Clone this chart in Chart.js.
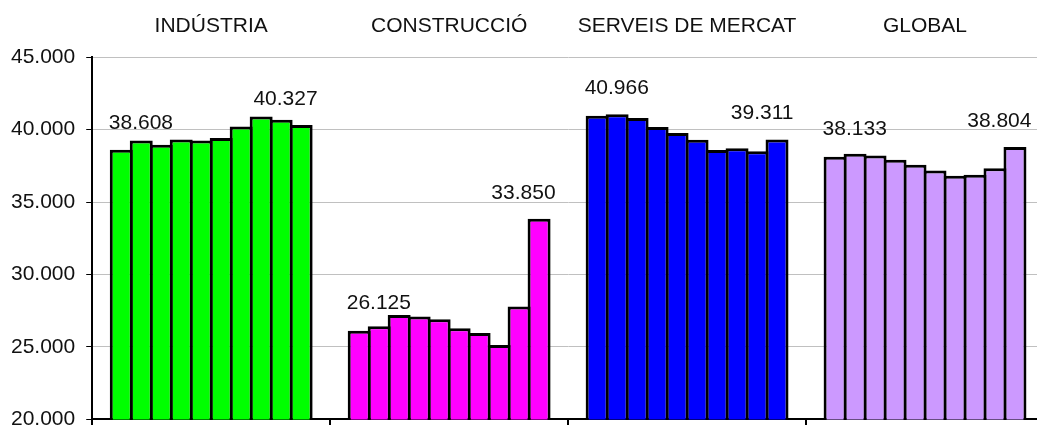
<!DOCTYPE html>
<html lang="ca">
<head>
    <meta charset="UTF-8">
    <title>Gràfic</title>
    <script src="https://cdn.jsdelivr.net/npm/chart.js"></script>
    <style>
        html, body { margin:0; padding:0; background:#fff; overflow:hidden; }
    </style>
</head>
<body>
    <div style="width:1052px; height:443px;">
        <canvas id="grafic"></canvas>
    </div>

    <script>
        const categories = ["INDÚSTRIA", "CONSTRUCCIÓ", "SERVEIS DE MERCAT", "GLOBAL"]
        const industria   = [38608, 39250, 38950, 39320, 39250, 39430, 40220, 40900, 40680, 40327]
        const construccio = [26125, 26430, 27210, 27100, 26910, 26290, 25970, 25140, 27790, 33850]
        const serveis     = [40966, 41060, 40810, 40190, 39770, 39310, 38600, 38720, 38510, 39311]
        const global      = [38133, 38330, 38210, 37930, 37570, 37180, 36810, 36880, 37340, 38804]
        const colors = ["#00ff00", "#ff00ff", "#0000ff", "#cc99ff"]
        const yTicks = [20000, 25000, 30000, 35000, 40000, 45000]

        const fmt = v => String(v).replace(/\B(?=(\d{3})+(?!\d))/g, ".")
        const font = { family: "'Liberation Sans', Arial, sans-serif", size: 21 }

        // one dataset per bar position inside each group
        const datasets = []
        for (let j = 0; j < industria.length; j++) {
          datasets.push({
            data: [industria[j], construccio[j], serveis[j], global[j]],
            backgroundColor: colors,
            borderColor: "#000",
            borderWidth: 3,
            categoryPercentage: 0.84,
            barPercentage: 1.15
          })
        }

        // first and last value of every group
        const endLabels = {
          id: "endLabels",
          afterDatasetsDraw(chart) {
            const c = chart.ctx
            const last = chart.data.datasets.length - 1
            c.save()
            c.font = font.size + "px " + font.family
            c.fillStyle = "#111"
            c.textBaseline = "middle"
            categories.forEach((cat, i) => {
              const a = chart.getDatasetMeta(0).data[i]
              const b = chart.getDatasetMeta(last).data[i]
              c.textAlign = "left"
              c.fillText(fmt(chart.data.datasets[0].data[i]), a.x - a.width / 2 - 1, a.y - 27)
              c.textAlign = "right"
              c.fillText(fmt(chart.data.datasets[last].data[i]), b.x + b.width / 2 + 5, b.y - 26)
            })
            c.restore()
          }
        }

        new Chart(document.getElementById("grafic"), {
          type: "bar",
          data: { labels: categories, datasets: datasets },
          options: {
            responsive: true,
            maintainAspectRatio: false,
            animation: false,
            layout: { padding: { top: 4, right: 8, left: 0, bottom: 0 } },
            plugins: { legend: { display: false }, tooltip: { enabled: false } },
            scales: {
              x: {
                position: "bottom",
                offset: true,
                grid: { display: true, drawOnChartArea: false, offset: true, tickLength: 8, tickColor: "#000", lineWidth: 2 },
                border: { color: "#000", width: 2 },
                ticks: { display: false }
              },
              x2: {
                type: "category",
                labels: categories,
                position: "top",
                offset: true,
                grid: { display: false },
                border: { display: false },
                ticks: { font: font, color: "#111", padding: 10 }
              },
              y: {
                min: yTicks[0],
                max: yTicks[yTicks.length - 1],
                afterBuildTicks: axis => { axis.ticks = yTicks.map(v => ({ value: v })) },
                ticks: { font: font, color: "#111", padding: 11, callback: v => fmt(v) },
                grid: { color: "#c0c0c0", tickColor: "#000", tickLength: 6 },
                border: { color: "#000", width: 2 }
              }
            }
          },
          plugins: [endLabels]
        })
    </script>
</body>
</html>
